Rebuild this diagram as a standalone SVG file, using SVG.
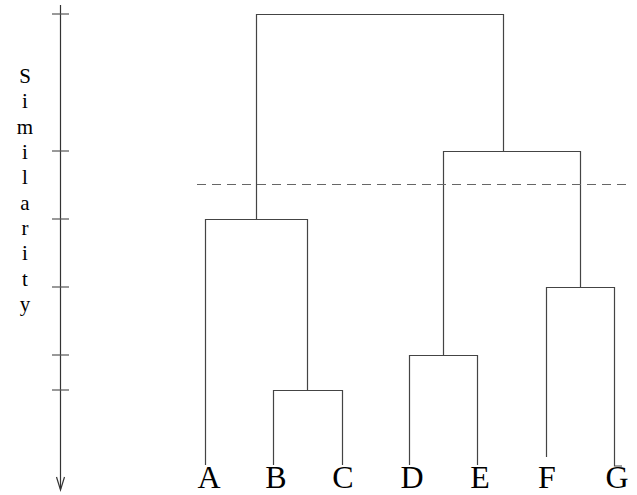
<svg xmlns="http://www.w3.org/2000/svg" width="637" height="495" viewBox="0 0 637 495">
<defs>
<style>
.ln{stroke:#444;stroke-width:1.2;fill:none}
.ax{stroke:#333;stroke-width:1.2;fill:none}
.tk{stroke:#555;stroke-width:1.2}
.dash{stroke:#666;stroke-width:1.2;stroke-dasharray:9 6;fill:none}
.lbl{font-family:"Liberation Serif","Times New Roman",serif;font-size:32px;fill:#000;text-anchor:middle}
.ylbl{font-family:"Liberation Serif","Times New Roman",serif;font-size:21px;fill:#000;text-anchor:middle}
</style>
</defs>
<rect width="637" height="495" fill="#fff"/>
<g id="axis">
<line class="ax" x1="60.5" y1="5" x2="60.5" y2="489"/>
<path class="ax" d="M56.5,477 L60.5,490 L64.5,477"/>
<line class="tk" x1="52" y1="14" x2="69" y2="14"/>
<line class="tk" x1="52" y1="151" x2="69" y2="151"/>
<line class="tk" x1="52" y1="219" x2="69" y2="219"/>
<line class="tk" x1="52" y1="287" x2="69" y2="287"/>
<line class="tk" x1="52" y1="355" x2="69" y2="355"/>
<line class="tk" x1="52" y1="390" x2="69" y2="390"/>
<g class="ylbl">
<text x="25" y="83">S</text>
<text x="25" y="108">i</text>
<text x="25" y="134">m</text>
<text x="25" y="159">i</text>
<text x="25" y="184">l</text>
<text x="25" y="210">a</text>
<text x="25" y="235">r</text>
<text x="25" y="260">i</text>
<text x="25" y="286">t</text>
<text x="25" y="311">y</text>
</g>
</g>
<g id="connectors">
<path class="ln" d="M205.5,465 V219.5 H307.5 V390.5"/>
<path class="ln" d="M273.5,465 V390.5 H342.5 V465"/>
<path class="ln" d="M256.5,219.5 V14.5 H503.5 V151.5"/>
<path class="ln" d="M443.5,355.5 V151.5 H580.5 V287.5"/>
<path class="ln" d="M409.5,465 V355.5 H477.5 V465"/>
<path class="ln" d="M546.5,457 V287.5 H614.5 V466 H622"/>
<line class="dash" x1="197" y1="184.5" x2="632" y2="184.5"/>
</g>
<g id="node-A"><text class="lbl" x="209" y="488">A</text></g>
<g id="node-B"><text class="lbl" x="276" y="488">B</text></g>
<g id="node-C"><text class="lbl" x="343" y="488">C</text></g>
<g id="node-D"><text class="lbl" x="412" y="488">D</text></g>
<g id="node-E"><text class="lbl" x="480" y="488">E</text></g>
<g id="node-F"><text class="lbl" x="547" y="488">F</text></g>
<g id="node-G"><text class="lbl" x="617" y="488">G</text></g>
</svg>
